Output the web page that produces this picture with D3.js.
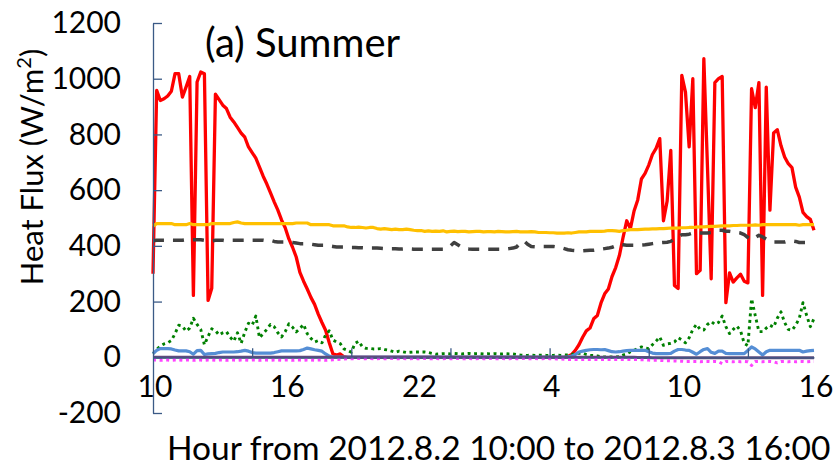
<!DOCTYPE html>
<html>
<head>
<meta charset="utf-8">
<script src="https://cdn.jsdelivr.net/npm/d3@7"></script>
<style>
  body { margin: 0; background: #fff; }
  svg { display: block; }
  text { font-family: Lato, "Open Sans", sans-serif; fill: #000; }
</style>
</head>
<body>
<svg id="chart" width="835" height="476"></svg>
<script>
// 10-minute samples from 2012-08-02 10:00 to 2012-08-03 16:00 (one row per hour)
const stepsPerHour = 6;
const hourLabels = ["10", "16", "22", "4", "10", "16"];
const yTickValues = [-200, 0, 200, 400, 600, 800, 1000, 1200];

const redSeries = [
  300, 958, 922, 928, 938, 955,
  1018, 1018, 934, 970, 1008, 222,
  988, 1024, 1018, 204, 248, 945,
  925, 905, 893, 862, 845, 825,
  805, 790, 755, 735, 715, 683,
  650, 622, 590, 558, 528, 493,
  465, 425, 395, 360, 305, 273,
  245, 215, 190, 155, 125, 97,
  52, 12, 8, 12, 2, 0,
  0, 0, 0, 0, 0, 0,
  0, 0, 0, 0, 0, 0,
  0, 0, 0, 0, 0, 0,
  0, 0, 0, 0, 0, 0,
  0, 0, 0, 0, 0, 0,
  0, 0, 0, 0, 0, 0,
  0, 0, 0, 0, 0, 0,
  0, 0, 0, 0, 0, 0,
  0, 0, 0, 0, 0, 0,
  0, 0, 0, 0, 0, 3,
  10, 25, 45, 72, 95, 105,
  138, 150, 195, 228, 245, 290,
  322, 365, 430, 490, 462, 525,
  565, 640, 660, 690, 728, 750,
  785, 490, 560, 743, 258, 247,
  1012, 952, 755, 1000, 300, 312,
  1072, 680, 282, 986, 1000, 1008,
  196, 303, 270, 285, 298, 273,
  267, 964, 896, 986, 222, 970,
  528, 805, 817, 760, 719, 695,
  681, 611, 575, 520, 505, 495,
  456
];

const orangeSeries = [
  471, 480, 480, 480, 480, 480,
  476, 476, 476, 476, 480, 476,
  476, 476, 476, 476, 480, 480,
  480, 480, 480, 480, 484, 486,
  482, 480, 480, 480, 480, 480,
  480, 480, 480, 480, 480, 480,
  480, 480, 480, 482, 482, 482,
  482, 476, 476, 476, 476, 476,
  476, 472, 472, 472, 472, 468,
  466, 466, 467, 466, 464, 466,
  466, 462, 460, 462, 460, 458,
  460, 458, 458, 460, 458, 456,
  455, 455, 452, 454, 452, 453,
  452, 454, 450, 452, 453, 451,
  452, 452, 450, 451, 452, 452,
  450, 451, 451, 450, 452, 451,
  450, 450, 451, 452, 450, 450,
  450, 451, 450, 448, 448, 448,
  447, 447, 446, 446, 446, 447,
  446, 448, 450, 450, 450, 452,
  452, 452, 452, 453, 455, 455,
  454, 452, 455, 456, 458, 458,
  458, 459, 460, 460, 461, 461,
  462, 462, 463, 464, 464, 464,
  465, 465, 466, 466, 467, 468,
  468, 469, 470, 470, 471, 472,
  472, 472, 473, 473, 474, 474,
  474, 474, 475, 474, 476, 476,
  476, 476, 476, 476, 476, 476,
  476, 476, 474, 476, 476, 476,
  476
];

const graySeries = [
  418, 420, 420, 420, 420, 420,
  420, 420, 420, 422, 422, 422,
  422, 422, 420, 420, 418, 420,
  420, 420, 418, 420, 420, 420,
  420, 420, 418, 420, 420, 420,
  420, 418, 420, 416, 414, 414,
  414, 414, 412, 410, 408, 408,
  408, 406, 404, 402, 402, 402,
  400, 398, 396, 396, 396, 395,
  394, 394, 393, 393, 392, 392,
  392, 392, 391, 390, 390, 390,
  390, 389, 389, 390, 389, 388,
  388, 388, 388, 388, 388, 388,
  388, 388, 392, 400, 412, 404,
  396, 391, 389, 388, 388, 388,
  388, 388, 388, 388, 388, 388,
  388, 390, 392, 396, 410, 418,
  406, 398, 397, 398, 398, 398,
  398, 398, 396, 394, 390, 386,
  384, 383, 382, 382, 383, 384,
  384, 386, 388, 390, 392, 395,
  400, 406, 404, 402, 402, 402,
  402, 403, 404, 406, 408, 410,
  411, 412, 413, 416, 425, 432,
  440, 440, 442, 446, 446, 446,
  446, 446, 448, 452, 456, 456,
  452, 452, 450, 448, 446, 440,
  430, 422, 430, 438, 432, 424,
  416, 414, 414, 414, 414, 418,
  418, 416, 412, 412, 412, 412,
  412
];

const greenSeries = [
  13, 28, 40, 48, 52, 60,
  85, 115, 112, 94, 105, 140,
  118, 100, 45, 75, 102, 96,
  80, 88, 92, 72, 58, 88,
  50, 90, 122, 115, 148, 70,
  85, 100, 118, 110, 88, 73,
  92, 120, 108, 91, 103, 118,
  85, 68, 55, 60, 52, 80,
  95, 62, 55, 49, 30, 25,
  18, 50, 58, 38, 32, 32,
  30, 30, 31, 28, 26, 22,
  18, 22, 20, 17, 18, 19,
  19, 19, 19, 17, 14, 11,
  12, 13, 13, 12, 14, 13,
  12, 13, 14, 12, 13, 13,
  12, 13, 12, 13, 12, 12,
  13, 12, 12, 10, 8, 7,
  7, 8, 7, 7, 8, 7,
  7, 7, 8, 7, 8, 8,
  10, 15, 14, 15, 10, 7,
  6, 5, 2, 1, 1, 1,
  1, 2, 8, 12, 20, 25,
  32, 37, 33, 31, 45, 58,
  73, 43, 48, 50, 55, 70,
  62, 52, 70, 100, 118, 100,
  98, 118, 128, 118, 125, 148,
  110, 85, 100, 112, 95, 50,
  42, 210, 150, 92, 92, 105,
  115, 108, 140, 163, 125, 100,
  97, 115, 140, 196, 150, 110,
  139
];

const blueSeries = [
  13, 25, 31, 31, 31, 30,
  26, 23, 23, 23, 20, 11,
  24, 25, 10, 12, 13, 14,
  17, 19, 19, 19, 19, 20,
  22, 25, 22, 17, 15, 15,
  15, 15, 15, 17, 20, 23,
  23, 23, 23, 23, 24, 28,
  33, 30, 27, 25, 22, 12,
  4, 1, 1, 1, 1, 1,
  1, 1, 1, 1, 1, 1,
  1, 1, 1, 1, 1, 1,
  1, 1, 1, 1, 1, 1,
  1, 1, 1, 1, 1, 1,
  1, 1, 1, 1, 1, 1,
  1, 1, 1, 1, 1, 1,
  1, 1, 1, 1, 1, 1,
  1, 1, 1, 1, 1, 1,
  1, 1, 1, 1, 1, 1,
  1, 1, 1, 1, 1, 2,
  4, 10, 19, 22, 25, 27,
  28, 28, 27, 28, 24, 20,
  19, 20, 22, 24, 25, 25,
  25, 25, 25, 20, 15, 13,
  13, 13, 13, 14, 22, 28,
  28, 26, 25, 18, 11, 20,
  28, 31, 18, 14, 22, 22,
  14, 13, 13, 13, 13, 13,
  25, 37, 30, 19, 8, 20,
  25, 25, 25, 25, 25, 25,
  25, 25, 25, 19, 22, 24,
  25
];

const purpleSeries = [
  0, 0, 0, 0, 0, 0,
  0, 0, 0, 0, 0, 0,
  0, 0, 0, 0, 0, 0,
  0, 0, 0, 0, 0, 0,
  0, 0, 0, 0, 0, 0,
  0, 0, 0, 0, 0, 0,
  0, 0, 0, 0, 0, 0,
  0, 0, 0, 0, 0, 0,
  0, 0, 0, 0, 0, 0,
  0, 0, 0, 0, 0, 0,
  0, 0, 0, 0, 0, 0,
  0, 0, 0, 0, 0, 0,
  0, 0, 0, 0, 0, 0,
  0, 0, 0, 0, 0, 0,
  0, 0, 0, 0, 0, 0,
  0, 0, 0, 0, 0, 0,
  0, 0, 0, 0, 0, 0,
  0, 0, 0, 0, 0, 0,
  0, 0, 0, 0, 0, 0,
  0, 0, 0, 0, 0, 0,
  0, 0, 0, 0, 0, 0,
  0, 0, 0, 0, 0, 0,
  -1, -1, -1, -1, -2, -2,
  -2, -2, -2, -2, -2, -2,
  -2, -2, -2, -2, -2, -2,
  -2, -2, -2, -2, -2, -2,
  -2, -2, -2, -2, -2, -2,
  -2, -2, -2, -2, -2, -2,
  -2, -2, -2, -2, -2, -2,
  -2, -2, -2, -2, -2, -2,
  -2
];

const magentaSeries = [
  -10, -10, -11, -10, -10, -11,
  -10, -10, -11, -10, -10, -11,
  -10, -10, -11, -10, -10, -11,
  -10, -10, -11, -10, -10, -11,
  -10, -10, -11, -10, -10, -11,
  -10, -10, -11, -10, -10, -11,
  -10, -10, -11, -10, -10, -11,
  -10, -10, -11, -10, -10, -11,
  -10, -9, -8, -7, -6, -5,
  -5, -5, -4, -5, -5, -4,
  -5, -5, -4, -5, -5, -4,
  -5, -5, -4, -5, -5, -4,
  -5, -5, -4, -5, -5, -4,
  -5, -5, -4, -5, -5, -4,
  -5, -5, -4, -5, -5, -4,
  -5, -5, -4, -5, -5, -4,
  -5, -5, -4, -5, -5, -4,
  -5, -5, -4, -5, -5, -4,
  -5, -5, -6, -6, -7, -8,
  -8, -8, -8, -8, -8, -8,
  -8, -8, -8, -8, -8, -8,
  -8, -8, -8, -8, -8, -8,
  -8, -9, -9, -10, -11, -11,
  -11, -12, -12, -13, -13, -14,
  -14, -15, -15, -15, -15, -16,
  -15, -15, -16, -15, -16, -23,
  -15, -15, -16, -15, -16, -15,
  -16, -29, -15, -15, -16, -15,
  -15, -16, -20, -15, -15, -16,
  -15, -16, -15, -15, -16, -15,
  -15
];

const series = [
  { name: "red", values: redSeries, color: "#ff0000", width: 3.3, dash: null },
  { name: "orange", values: orangeSeries, color: "#ffc000", width: 3.2, dash: null },
  { name: "gray", values: graySeries, color: "#404040", width: 3.5, dash: "11,9" },
  { name: "green", values: greenSeries, color: "#008000", width: 2.9, dash: "2.9,3.6" },
  { name: "blue", values: blueSeries, color: "#558ed5", width: 3.2, dash: null },
  { name: "purple", values: purpleSeries, color: "#604a7b", width: 3, dash: null },
  { name: "magenta", values: magentaSeries, color: "#ff44ff", width: 3, dash: "3,3.6" }
];

const lastStep = redSeries.length - 1;
const svg = d3.select("#chart");

const x = d3.scaleLinear().domain([0, lastStep]).range([153, 814]);
const y = d3.scaleLinear().domain([-200, 1200]).range([413, 23]);
const axisColor = "#3b5a86";
const fontStack = "Lato, 'Open Sans', sans-serif";

// series lines
const line = d3.line()
  .x((d, i) => x(i))
  .y(d => y(d));

svg.append("g")
  .selectAll("path")
  .data(series)
  .join("path")
  .attr("d", d => line(d.values))
  .attr("fill", "none")
  .attr("stroke", d => d.color)
  .attr("stroke-width", d => d.width)
  .attr("stroke-linejoin", "round")
  .attr("stroke-dasharray", d => d.dash);

// y axis with inward ticks
const yAxis = svg.append("g")
  .attr("transform", `translate(${x(0)},0)`)
  .call(d3.axisLeft(y)
    .tickValues(yTickValues)
    .tickFormat(d => String(d))
    .tickSizeInner(-9)
    .tickSizeOuter(0)
    .tickPadding(32));
yAxis.selectAll("path, line").attr("stroke", axisColor).attr("stroke-width", 1.3);
yAxis.selectAll("text").attr("font-size", 30).attr("font-family", fontStack).attr("fill", "#000");

// x axis at zero with upward tick marks every 4.5 hours
const xAxis = svg.append("g")
  .attr("transform", `translate(0,${y(0)})`)
  .call(d3.axisBottom(x).tickValues(d3.range(27, lastStep + 1, 27)).tickSizeInner(-9).tickSizeOuter(0).tickFormat(""));
xAxis.selectAll("path, line").attr("stroke", axisColor).attr("stroke-width", 1.3);

// hour labels every 6 hours
svg.append("g")
  .selectAll("text")
  .data(hourLabels)
  .join("text")
  .attr("x", (d, k) => x(k * 6 * stepsPerHour) + 2)
  .attr("y", 397)
  .attr("text-anchor", "middle")
  .attr("font-size", 30)
  .text(d => d);

// axis titles
const yTitle = svg.append("text")
  .attr("transform", "translate(43,167) rotate(-90)")
  .attr("text-anchor", "middle")
  .attr("font-size", 31);
yTitle.append("tspan").text("Heat Flux (W/m");
yTitle.append("tspan").attr("font-size", 20).attr("dy", -12).text("2");
yTitle.append("tspan").attr("dy", 12).text(")");

svg.append("text")
  .attr("x", 167)
  .attr("y", 460)
  .attr("font-size", 33.5)
  .text("Hour from 2012.8.2 10:00 to 2012.8.3 16:00");

svg.append("text")
  .attr("x", 205)
  .attr("y", 57)
  .attr("font-size", 40)
  .text("(a) Summer");
</script>
</body>
</html>
